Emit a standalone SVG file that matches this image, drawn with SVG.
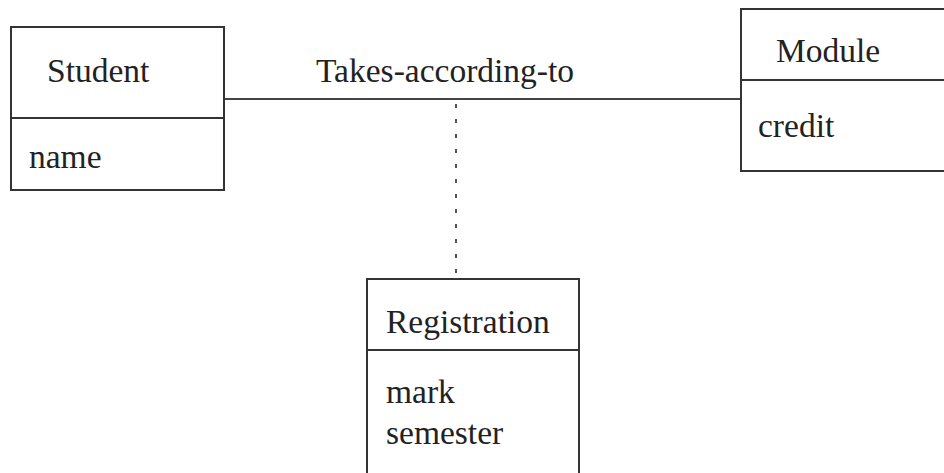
<svg xmlns="http://www.w3.org/2000/svg" width="944" height="473" viewBox="0 0 944 473">
<style>
.box{fill:#fff;stroke:#333;stroke-width:2}
.div{stroke:#333;stroke-width:2}
text{font-family:"Liberation Serif","Times New Roman",serif;font-size:33.5px;fill:#222}
.conn{stroke:#444;stroke-width:2;fill:none}
.dot{stroke:#555;stroke-width:2;stroke-dasharray:4 11;fill:none}
</style>
<rect width="944" height="473" fill="#fff"/>
<g id="connectors">
<line class="conn" x1="224" y1="99" x2="741" y2="99"/>
<line class="dot" x1="456" y1="104" x2="456" y2="279"/>
<text x="316" y="82">Takes-according-to</text>
</g>
<g id="student">
<rect class="box" x="11" y="27" width="213" height="163"/>
<line class="div" x1="11" y1="118" x2="224" y2="118"/>
<text x="47" y="82">Student</text>
<text x="29" y="168">name</text>
</g>
<g id="module">
<rect class="box" x="741" y="9" width="210" height="162"/>
<line class="div" x1="741" y1="80" x2="944" y2="80"/>
<text x="776" y="62">Module</text>
<text x="758" y="137">credit</text>
</g>
<g id="registration">
<rect class="box" x="367" y="279" width="212" height="210"/>
<line class="div" x1="367" y1="350" x2="579" y2="350"/>
<text x="386" y="333">Registration</text>
<text x="386" y="403">mark</text>
<text x="386" y="444">semester</text>
</g>
</svg>
